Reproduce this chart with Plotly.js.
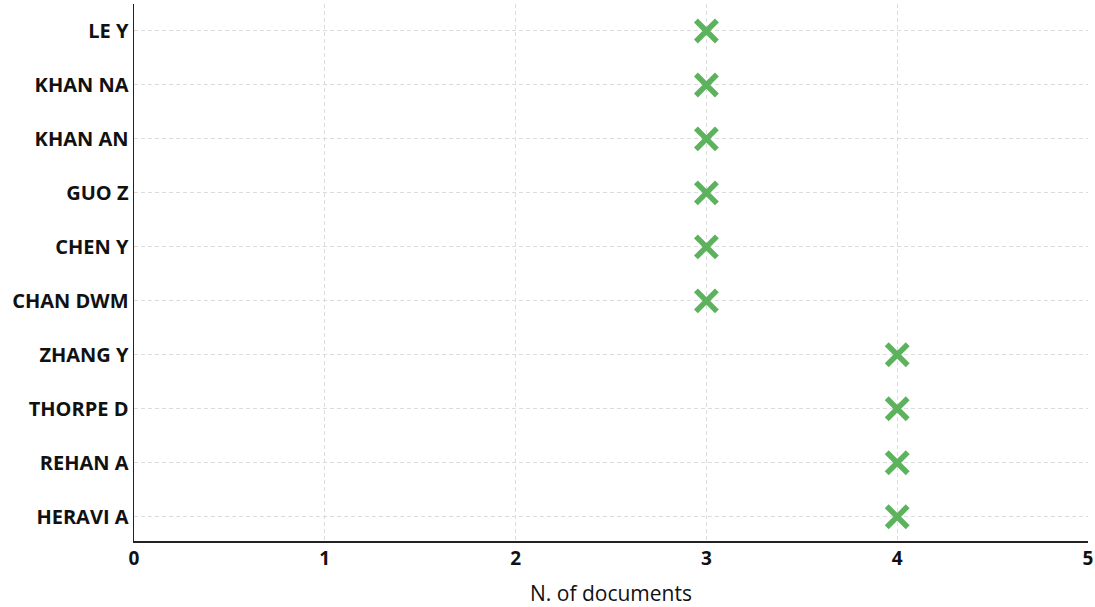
<!DOCTYPE html>
<html>
<head>
<meta charset="utf-8">
<script src="https://cdn.plot.ly/plotly-3.0.1.min.js"></script>
<style>html,body{margin:0;padding:0;background:#fff;}#chart{width:1095px;height:607px;}</style>
</head>
<body>
<div id="chart"></div>
<script>
var authors = ["LE Y", "KHAN NA", "KHAN AN", "GUO Z", "CHEN Y", "CHAN DWM", "ZHANG Y", "THORPE D", "REHAN A", "HERAVI A"];
var documents = [3, 3, 3, 3, 3, 3, 4, 4, 4, 4];
var xTicks = [0, 1, 2, 3, 4, 5];

var trace = {
  type: 'scatter',
  mode: 'markers',
  x: documents,
  y: authors,
  marker: {
    symbol: 'x-thin-open',
    size: 21,
    color: '#5db35d',
    line: {width: 5.5, color: '#5db35d'}
  },
  cliponaxis: false,
  hoverinfo: 'x+y'
};

var layout = {
  width: 1095,
  height: 607,
  margin: {l: 134, r: 7, t: 4, b: 66},
  paper_bgcolor: '#ffffff',
  plot_bgcolor: '#ffffff',
  showlegend: false,
  font: {family: 'Open Sans, sans-serif', color: '#111111'},
  xaxis: {
    range: [0, 5],
    tickvals: xTicks,
    ticktext: xTicks.map(String),
    ticklabeloverflow: 'allow',
    showline: true,
    linecolor: '#222222',
    linewidth: 1.5,
    showgrid: true,
    gridcolor: '#dcdcdc',
    griddash: '4px,3px',
    gridwidth: 1,
    zeroline: false,
    ticks: '',
    ticklabelstandoff: 0,
    tickfont: {size: 19, weight: 'bold', family: 'Open Sans, sans-serif'},
    title: {text: 'N. of documents', font: {size: 21, family: 'Open Sans, sans-serif'}, standoff: 16}
  },
  yaxis: {
    type: 'category',
    categoryorder: 'array',
    categoryarray: authors.slice().reverse(),
    range: [-0.45, 9.5],
    showline: true,
    linecolor: '#222222',
    linewidth: 1.5,
    showgrid: true,
    gridcolor: '#dcdcdc',
    griddash: '4px,3px',
    gridwidth: 1,
    zeroline: false,
    ticks: '',
    ticklen: 0,
    tickfont: {size: 20, weight: 'bold', family: 'Open Sans, sans-serif'}
  }
};

Plotly.newPlot('chart', [trace], layout, {displayModeBar: false, staticPlot: true});
</script>
</body>
</html>
